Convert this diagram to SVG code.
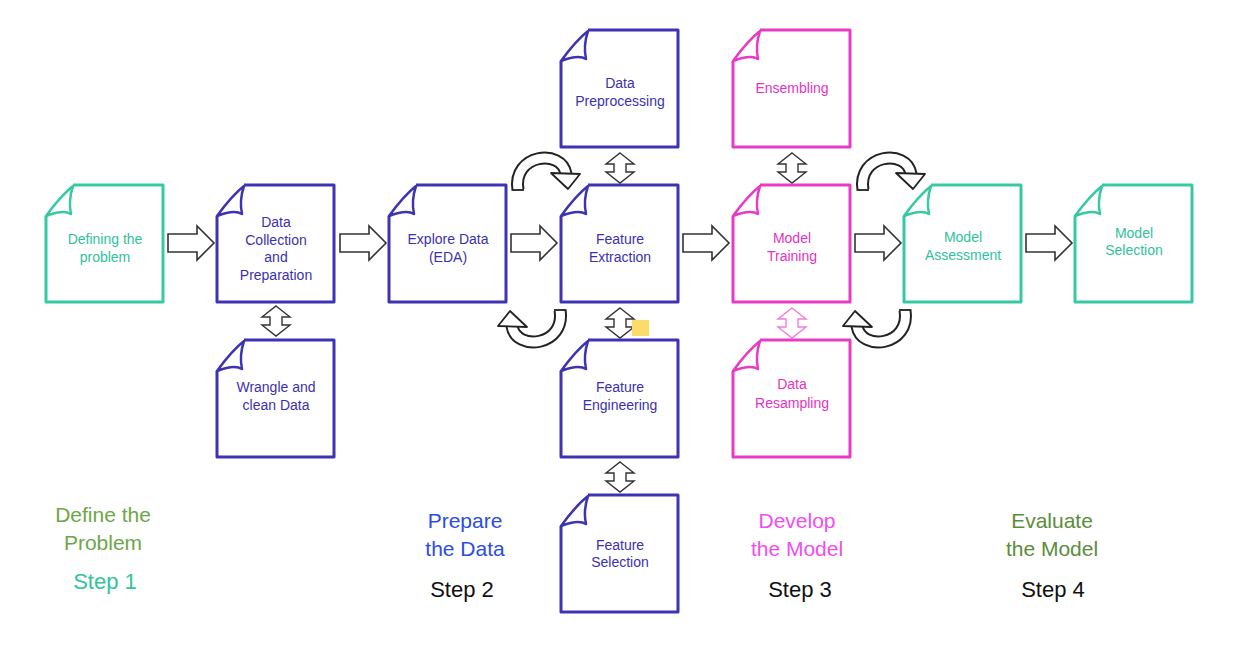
<svg xmlns="http://www.w3.org/2000/svg" xmlns:xlink="http://www.w3.org/1999/xlink" width="1253" height="665" viewBox="0 0 1253 665">
<style>
.page{fill:#fff;stroke-width:3;stroke-linejoin:round}
.flap{fill:#fff;stroke-width:2.5;stroke-linejoin:round}
.teal{stroke:#36c9a3}
.blue{stroke:#3d33b3}
.mag{stroke:#e93ac6}
.nt{font-family:"Liberation Sans",Arial,sans-serif;font-size:14px;text-anchor:middle;stroke:none}
.teal .nt{fill:#30c29c}
.blue .nt{fill:#3b31b0}
.mag .nt{fill:#e532c2}
.harrow{fill:#fff;stroke:#333;stroke-width:1.6;stroke-linejoin:miter}
.varrow{fill:#fff;stroke:#333;stroke-width:1.4}
.varrow.pink{stroke:#f07fd8}
.cbk{fill:none;stroke:#222;stroke-width:13}
.cwh{fill:none;stroke:#fff;stroke-width:9}
.chead{fill:#fff;stroke:#222;stroke-width:1.8;stroke-linejoin:round}
.lbl{font-family:"Liberation Sans",Arial,sans-serif;font-size:21px;text-anchor:middle}
.step{font-family:"Liberation Sans",Arial,sans-serif;font-size:22px;text-anchor:middle}
</style>
<defs>
<path id="pg" class="page" d="M27,0 L117,0 L117,117 L0,117 L0,31"/>
<path id="fl" class="flap" d="M0,31 C8,20 18,8 27,1 C24,10 23,20 25,29 C19,25 10,27 0,31 Z"/>
<path id="ha" class="harrow" d="M0,-9 L29,-9 L29,-17 L46,0 L29,17 L29,9 L0,9 Z"/>
<path id="va" d="M0,-15 L14,-4 L6,-4 L6,4 L14,4 L0,15 L-14,4 L-6,4 L-6,-4 L-14,-4 Z"/>
<g id="ca">
<path class="cbk" d="M8,36 C2,0 52,-6 56,20"/>
<path class="cwh" d="M8,36 C2,0 52,-6 56,20"/>
<path class="chead" d="M41,19 L70,20 L58,35 Z"/>
<path d="M3,36 L14,36" stroke="#222" stroke-width="1.8"/>
</g>
</defs>

<g id="connectors">
<use href="#ha" x="168" y="243"/>
<use href="#ha" x="340" y="243"/>
<use href="#ha" x="511" y="243"/>
<use href="#ha" x="683" y="243"/>
<use href="#ha" x="855" y="243"/>
<use href="#ha" x="1026" y="243"/>
<use href="#va" class="varrow" x="276" y="321"/>
<use href="#va" class="varrow" x="620" y="168"/>
<use href="#va" class="varrow" x="620" y="323"/>
<use href="#va" class="varrow" x="620" y="477"/>
<use href="#va" class="varrow" x="792" y="168"/>
<use href="#va" class="varrow pink" x="792" y="323"/>
<use href="#ca" transform="translate(510,154)"/>
<use href="#ca" transform="translate(568,346) rotate(180)"/>
<use href="#ca" transform="translate(855,154)"/>
<use href="#ca" transform="translate(913,346) rotate(180)"/>
</g>

<rect id="note" x="632" y="320" width="17" height="16" fill="#fbdc6b"/>

<g id="n-define" class="teal" transform="translate(46,185)">
<use href="#pg"/><use href="#fl"/>
<text class="nt" x="59" y="59">Defining the</text><text class="nt" x="59" y="77">problem</text>
</g>
<g id="n-collect" class="blue" transform="translate(217,185)">
<use href="#pg"/><use href="#fl"/>
<text class="nt" x="59" y="42">Data</text><text class="nt" x="59" y="60">Collection</text><text class="nt" x="59" y="77">and</text><text class="nt" x="59" y="95">Preparation</text>
</g>
<g id="n-explore" class="blue" transform="translate(389,185)">
<use href="#pg"/><use href="#fl"/>
<text class="nt" x="59" y="59">Explore Data</text><text class="nt" x="59" y="77">(EDA)</text>
</g>
<g id="n-extract" class="blue" transform="translate(561,185)">
<use href="#pg"/><use href="#fl"/>
<text class="nt" x="59" y="59">Feature</text><text class="nt" x="59" y="77">Extraction</text>
</g>
<g id="n-train" class="mag" transform="translate(733,185)">
<use href="#pg"/><use href="#fl"/>
<text class="nt" x="59" y="58">Model</text><text class="nt" x="59" y="76">Training</text>
</g>
<g id="n-assess" class="teal" transform="translate(904,185)">
<use href="#pg"/><use href="#fl"/>
<text class="nt" x="59" y="57">Model</text><text class="nt" x="59" y="75">Assessment</text>
</g>
<g id="n-select" class="teal" transform="translate(1075,185)">
<use href="#pg"/><use href="#fl"/>
<text class="nt" x="59" y="53">Model</text><text class="nt" x="59" y="70">Selection</text>
</g>
<g id="n-preproc" class="blue" transform="translate(561,30)">
<use href="#pg"/><use href="#fl"/>
<text class="nt" x="59" y="58">Data</text><text class="nt" x="59" y="76">Preprocessing</text>
</g>
<g id="n-ensemble" class="mag" transform="translate(733,30)">
<use href="#pg"/><use href="#fl"/>
<text class="nt" x="59" y="63">Ensembling</text>
</g>
<g id="n-wrangle" class="blue" transform="translate(217,340)">
<use href="#pg"/><use href="#fl"/>
<text class="nt" x="59" y="52">Wrangle and</text><text class="nt" x="59" y="70">clean Data</text>
</g>
<g id="n-engineer" class="blue" transform="translate(561,340)">
<use href="#pg"/><use href="#fl"/>
<text class="nt" x="59" y="52">Feature</text><text class="nt" x="59" y="70">Engineering</text>
</g>
<g id="n-resample" class="mag" transform="translate(733,340)">
<use href="#pg"/><use href="#fl"/>
<text class="nt" x="59" y="49">Data</text><text class="nt" x="59" y="68">Resampling</text>
</g>
<g id="n-fselect" class="blue" transform="translate(561,495)">
<use href="#pg"/><use href="#fl"/>
<text class="nt" x="59" y="55">Feature</text><text class="nt" x="59" y="72">Selection</text>
</g>

<g id="labels">
<text class="lbl" x="103" y="522" fill="#6ea648">Define the</text>
<text class="lbl" x="103" y="550" fill="#6ea648">Problem</text>
<text class="step" x="105" y="589" fill="#33c39e">Step 1</text>
<text class="lbl" x="465" y="528" fill="#2c4de0">Prepare</text>
<text class="lbl" x="465" y="556" fill="#2c4de0">the Data</text>
<text class="step" x="462" y="597" fill="#111">Step 2</text>
<text class="lbl" x="797" y="528" fill="#f04ef0">Develop</text>
<text class="lbl" x="797" y="556" fill="#f04ef0">the Model</text>
<text class="step" x="800" y="597" fill="#111">Step 3</text>
<text class="lbl" x="1052" y="528" fill="#5c8c3c">Evaluate</text>
<text class="lbl" x="1052" y="556" fill="#5c8c3c">the Model</text>
<text class="step" x="1053" y="597" fill="#111">Step 4</text>
</g>
</svg>
